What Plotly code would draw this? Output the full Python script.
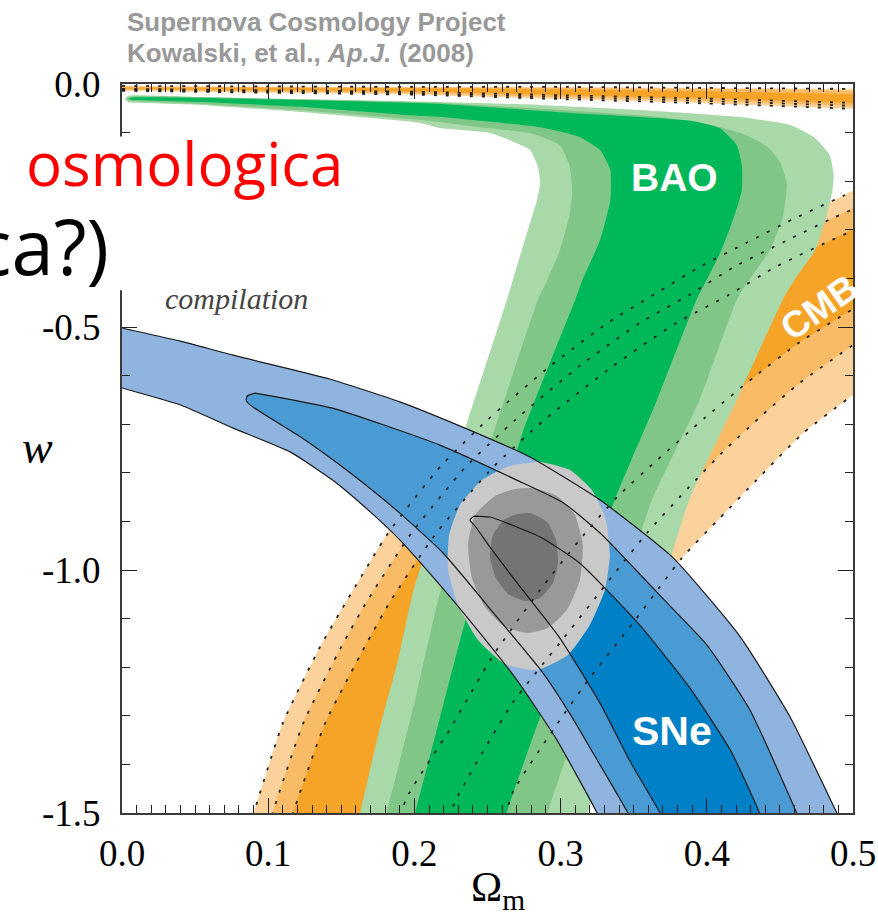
import plotly.graph_objects as go

# ---------------- values: (Omega_m, w) ----------------
X_TICKS = [0.0, 0.1, 0.2, 0.3, 0.4, 0.5]
X_TICK_TEXT = ["0.0", "0.1", "0.2", "0.3", "0.4", "0.5"]
Y_TICKS = [0.0, -0.5, -1.0, -1.5]
Y_TICK_TEXT = ["0.0", "-0.5", "-1.0", "-1.5"]

# BAO contours (outer edge from tip to bottom, inner edge from bottom back to tip)
BAO_3S_OUTER = [(0.0016, -0.031), (0.0043, -0.024), (0.0535, -0.027), (0.122, -0.031), (0.2175, -0.037),
                (0.286, -0.043), (0.354, -0.0535), (0.4226, -0.068), (0.4567, -0.084), (0.474, -0.111),
                (0.484, -0.146), (0.4868, -0.187), (0.486, -0.218), (0.482, -0.270), (0.474, -0.342),
                (0.460, -0.403), (0.452, -0.444), (0.4205, -0.650), (0.388, -0.856), (0.3686, -1.041),
                (0.344, -1.268), (0.3187, -1.5), (0.3146, -1.556)]
BAO_3S_INNER = [(0.1595, -1.556), (0.163, -1.5), (0.1765, -1.323), (0.1888, -1.185), (0.199, -1.047),
                (0.2175, -0.866), (0.2367, -0.691), (0.2633, -0.444), (0.270, -0.3765), (0.277, -0.307),
                (0.2838, -0.239), (0.286, -0.204), (0.2845, -0.171), (0.279, -0.136), (0.2517, -0.101),
                (0.2175, -0.0905), (0.204, -0.080), (0.122, -0.0576), (0.0535, -0.043), (0.0043, -0.038)]
BAO_2S_OUTER = [(0.003, -0.031), (0.006, -0.026), (0.122, -0.032), (0.2175, -0.039), (0.2995, -0.0535),
                (0.368, -0.068), (0.402, -0.084), (0.425, -0.103), (0.441, -0.128), (0.450, -0.160),
                (0.4547, -0.206), (0.452, -0.274), (0.443, -0.342), (0.429, -0.403), (0.4205, -0.444),
                (0.395, -0.650), (0.3625, -0.856), (0.342, -1.041), (0.317, -1.268), (0.291, -1.5),
                (0.286, -1.556)]
BAO_2S_INNER = [(0.177, -1.556), (0.181, -1.5), (0.2005, -1.268), (0.2175, -1.047), (0.236, -0.877),
                (0.254, -0.718), (0.2845, -0.444), (0.291, -0.403), (0.2995, -0.342), (0.306, -0.270),
                (0.308, -0.218), (0.306, -0.167), (0.2995, -0.126), (0.279, -0.101), (0.245, -0.089),
                (0.2175, -0.078), (0.204, -0.074), (0.122, -0.054), (0.0535, -0.041), (0.006, -0.035)]
BAO_1S_OUTER = [(0.004, -0.031), (0.007, -0.028), (0.122, -0.033), (0.2175, -0.041), (0.2995, -0.058),
                (0.390, -0.076), (0.409, -0.091), (0.4205, -0.126), (0.424, -0.167), (0.424, -0.218),
                (0.419, -0.270), (0.410, -0.342), (0.400, -0.403), (0.393, -0.444), (0.366, -0.650),
                (0.337, -0.856), (0.316, -1.041), (0.290, -1.268), (0.263, -1.5), (0.2585, -1.556)]
BAO_1S_INNER = [(0.196, -1.556), (0.2005, -1.5), (0.217, -1.309), (0.235, -1.103), (0.274, -0.718),
                (0.310, -0.444), (0.315, -0.403), (0.327, -0.321), (0.334, -0.239), (0.334, -0.177),
                (0.327, -0.136), (0.313, -0.109), (0.286, -0.089), (0.2175, -0.068), (0.204, -0.066),
                (0.122, -0.047), (0.0535, -0.037), (0.008, -0.033)]

# CMB contour boundaries (bottom -> top right)
CMB_L3 = [(0.081, -1.576), (0.090, -1.5), (0.110, -1.315), (0.1355, -1.158), (0.154, -1.062), (0.182, -0.924),
          (0.2175, -0.788), (0.250, -0.691), (0.293, -0.580), (0.332, -0.492), (0.3645, -0.432),
          (0.395, -0.3765), (0.427, -0.327), (0.459, -0.278), (0.493, -0.2305), (0.518, -0.1975)]
CMB_L2 = [(0.096, -1.576), (0.103, -1.5), (0.124, -1.315), (0.150, -1.158), (0.168, -1.062), (0.198, -0.924),
          (0.235, -0.788), (0.269, -0.691), (0.313, -0.580), (0.354, -0.492), (0.388, -0.434),
          (0.4185, -0.3765), (0.454, -0.323), (0.4875, -0.274), (0.518, -0.235)]
CMB_L1 = [(0.110, -1.576), (0.117, -1.5), (0.139, -1.315), (0.166, -1.158), (0.184, -1.062), (0.215, -0.924),
          (0.254, -0.788), (0.289, -0.691), (0.336, -0.580), (0.379, -0.492), (0.415, -0.434),
          (0.447, -0.3765), (0.484, -0.323), (0.518, -0.278)]
CMB_R1 = [(0.188, -1.556), (0.194, -1.473), (0.224, -1.329), (0.254, -1.175), (0.286, -1.041), (0.313, -0.938),
          (0.3385, -0.850), (0.366, -0.774), (0.3986, -0.687), (0.4315, -0.605), (0.4636, -0.531),
          (0.500, -0.463), (0.518, -0.428)]
CMB_R2 = [(0.2175, -1.556), (0.229, -1.469), (0.267, -1.274), (0.2995, -1.150), (0.327, -1.045),
          (0.359, -0.924), (0.388, -0.829), (0.411, -0.757), (0.438, -0.681), (0.4636, -0.615),
          (0.500, -0.537), (0.518, -0.500)]
CMB_R3 = [(0.2585, -1.556), (0.267, -1.459), (0.2995, -1.309), (0.320, -1.222), (0.351, -1.103),
          (0.383, -0.975), (0.409, -0.893), (0.434, -0.815), (0.466, -0.718), (0.500, -0.640),
          (0.518, -0.603)]
# thin CMB strip along w ~ 0
CMB_TOP_OM = [0.0, 0.1, 0.2, 0.3, 0.4, 0.5, 0.52]
CMB_TOP_3S_HI = [-0.004, -0.005, -0.006, -0.006, -0.008, -0.010, -0.010]
CMB_TOP_3S_LO = [-0.014, -0.018, -0.022, -0.031, -0.040, -0.051, -0.053]
CMB_TOP_2S_HI = [-0.005, -0.006, -0.007, -0.008, -0.010, -0.014, -0.014]
CMB_TOP_2S_LO = [-0.012, -0.016, -0.019, -0.027, -0.035, -0.045, -0.047]
CMB_TOP_1S_HI = [-0.007, -0.008, -0.009, -0.011, -0.015, -0.021, -0.022]
CMB_TOP_1S_LO = [-0.010, -0.013, -0.016, -0.023, -0.030, -0.039, -0.041]

# SNe contours (upper edge left -> bottom, lower edge left -> bottom)
SNE_3S_UPPER = [(-0.015, -0.490), (0.0, -0.502), (0.040, -0.529), (0.076, -0.558), (0.142, -0.607),
                (0.190, -0.654), (0.233, -0.706), (0.279, -0.7675), (0.327, -0.856), (0.377, -0.975),
                (0.423, -1.138), (0.457, -1.3025), (0.489, -1.5), (0.498, -1.556)]
SNE_3S_LOWER = [(-0.015, -0.611), (0.0, -0.6255), (0.040, -0.6605), (0.076, -0.708), (0.115, -0.757),
                (0.144, -0.815), (0.170, -0.881), (0.190, -0.938), (0.2175, -1.031), (0.233, -1.086),
                (0.270, -1.226), (0.2975, -1.350), (0.325, -1.5), (0.334, -1.556)]
SNE_2S_UPPER = [(0.091, -0.636), (0.099, -0.640), (0.144, -0.667), (0.2175, -0.743), (0.270, -0.815),
                (0.302, -0.862), (0.327, -0.924), (0.343, -0.973), (0.371, -1.062), (0.400, -1.154),
                (0.4295, -1.288), (0.4615, -1.5), (0.469, -1.556)]
SNE_2S_LOWER = [(0.091, -0.636), (0.0856, -0.642), (0.085, -0.652), (0.0897, -0.665), (0.122, -0.726),
                (0.156, -0.800), (0.190, -0.883), (0.2196, -0.965), (0.2565, -1.097), (0.288, -1.212),
                (0.306, -1.294), (0.325, -1.391), (0.346, -1.5), (0.354, -1.556)]
SNE_1S_UPPER = [(0.2409, -0.889), (0.2517, -0.891), (0.286, -0.932), (0.313, -0.9856), (0.354, -1.113),
                (0.388, -1.241), (0.416, -1.370), (0.436, -1.5), (0.442, -1.556)]
SNE_1S_LOWER = [(0.2409, -0.889), (0.238, -0.897), (0.242, -0.9115), (0.2517, -0.953), (0.274, -1.041),
                (0.2995, -1.140), (0.327, -1.274), (0.347, -1.391), (0.368, -1.5), (0.376, -1.556)]

# combined contours (closed loops)
ALL_3S = [(0.2859, -0.7778), (0.3064, -0.7942), (0.3214, -0.8354), (0.3310, -0.8971), (0.3337, -0.9691),
          (0.3303, -1.0412), (0.3200, -1.1132), (0.3050, -1.1749), (0.2838, -1.2058), (0.2619, -1.1934),
          (0.2435, -1.1440), (0.2298, -1.0720), (0.2230, -1.0), (0.2237, -0.9280), (0.2312, -0.8663),
          (0.2462, -0.8148), (0.2653, -0.7860)]
ALL_2S = [(0.2804, -0.8313), (0.2975, -0.8477), (0.3098, -0.8868), (0.3152, -0.9486), (0.3132, -1.0206),
          (0.3043, -1.0823), (0.2913, -1.1193), (0.2777, -1.1296), (0.2619, -1.1173), (0.2483, -1.0761),
          (0.2394, -1.0165), (0.2367, -0.9486), (0.2415, -0.8868), (0.2551, -0.8477), (0.2688, -0.8333)]
ALL_1S = [(0.2790, -0.8827), (0.2907, -0.9012), (0.2969, -0.9383), (0.2982, -0.9835), (0.2948, -1.0267),
          (0.2859, -1.0576), (0.2756, -1.0638), (0.2640, -1.0494), (0.2558, -1.0165), (0.2517, -0.9733),
          (0.2537, -0.9280), (0.2619, -0.8951), (0.2708, -0.8848)]

# ---------------- styles ----------------
CMB_COLORS = ["#fcd29c", "#f9bb66", "#f6a427"]
BAO_COLORS = ["#a9d9a9", "#80c787", "#00b85a"]
SNE_COLORS = ["#8fb4e0", "#4a9bd3", "#0081c7"]
ALL_COLORS = ["#c9c9c9", "#999999", "#747474"]
SERIF = "Liberation Serif"
SANS = "Liberation Sans"
SMOOTH = 0.5

fig = go.Figure()


def xy(points):
    return [p[0] for p in points], [p[1] for p in points]


def filled(points, color, wrap=False):
    pts = list(points)
    if wrap:  # smooth closed loop: run through the start again
        pts = pts + pts[:3]
    x, y = xy(pts)
    fig.add_trace(go.Scatter(x=x, y=y, mode="lines", fill="toself", fillcolor=color,
                             line=dict(width=0, color=color, shape="spline", smoothing=SMOOTH),
                             hoverinfo="skip"))


def outline(points, color, width, dash="solid", closed=False):
    x, y = xy(points)
    if closed:
        x.append(x[0]); y.append(y[0])
    fig.add_trace(go.Scatter(x=x, y=y, mode="lines",
                             line=dict(width=width, color=color, dash=dash, shape="spline",
                                       smoothing=SMOOTH),
                             hoverinfo="skip"))


# CMB strip at top
for hi, lo, col in [(CMB_TOP_3S_HI, CMB_TOP_3S_LO, CMB_COLORS[0]),
                    (CMB_TOP_2S_HI, CMB_TOP_2S_LO, CMB_COLORS[1]),
                    (CMB_TOP_1S_HI, CMB_TOP_1S_LO, CMB_COLORS[2])]:
    filled(list(zip(CMB_TOP_OM, hi)) + list(zip(CMB_TOP_OM, lo))[::-1], col)

# CMB band
for left, right, col in [(CMB_L3, CMB_R3, CMB_COLORS[0]), (CMB_L2, CMB_R2, CMB_COLORS[1]),
                         (CMB_L1, CMB_R1, CMB_COLORS[2])]:
    filled(left + right[::-1], col)

# BAO
for outer, inner, col in [(BAO_3S_OUTER, BAO_3S_INNER, BAO_COLORS[0]),
                          (BAO_2S_OUTER, BAO_2S_INNER, BAO_COLORS[1]),
                          (BAO_1S_OUTER, BAO_1S_INNER, BAO_COLORS[2])]:
    filled(outer + inner, col)

# SNe
SNE_SHAPES = [SNE_3S_UPPER + SNE_3S_LOWER[::-1],
              SNE_2S_UPPER + SNE_2S_LOWER[::-1],
              SNE_1S_UPPER + SNE_1S_LOWER[::-1]]
for pts, col in zip(SNE_SHAPES, SNE_COLORS):
    filled(pts, col)

# combined
for pts, col in zip([ALL_3S, ALL_2S, ALL_1S], ALL_COLORS):
    filled(pts, col, wrap=True)

# SNe outlines
for pts in SNE_SHAPES:
    outline(pts, "#1a1a1a", 1.2, closed=True)

# CMB dotted boundaries
DOT = "3px,9px"
for curve in [CMB_L3, CMB_L2, CMB_L1, CMB_R1, CMB_R2, CMB_R3]:
    outline(curve, "#222222", 1.8, dash=DOT)
for edge in [CMB_TOP_3S_HI, CMB_TOP_3S_LO, CMB_TOP_2S_LO, CMB_TOP_1S_LO]:
    outline(list(zip(CMB_TOP_OM, edge)), "#222222", 1.8, dash=DOT)

axis_font = dict(family=SERIF, size=37, color="black")
fig.update_xaxes(range=[0, 0.5], tickvals=X_TICKS, ticktext=X_TICK_TEXT, tickfont=axis_font,
                 showgrid=False, zeroline=False, showline=True, linecolor="#3a3a3a", linewidth=2,
                 mirror="ticks", ticks="inside", ticklen=15, tickwidth=1.3, tickcolor="#222",
                 minor=dict(dtick=0.01, ticks="inside", ticklen=8, tickwidth=1.2, tickcolor="#222"),
                 ticklabelstandoff=7)
fig.update_yaxes(range=[-1.5, 0], tickvals=Y_TICKS, ticktext=Y_TICK_TEXT, tickfont=axis_font,
                 showgrid=False, zeroline=False, showline=True, linecolor="#3a3a3a", linewidth=2,
                 mirror="ticks", ticks="inside", ticklen=15, tickwidth=1.3, tickcolor="#222",
                 minor=dict(dtick=0.1, ticks="inside", ticklen=8, tickwidth=1.2, tickcolor="#222"),
                 ticklabelstandoff=12)

annotations = [
    dict(text="<b>Supernova Cosmology Project</b>", x=0.004, y=1.085, xanchor="left", yanchor="middle",
         font=dict(family=SANS, size=26, color="#999999")),
    dict(text="<b>Kowalski, et al., <i>Ap.J.</i> (2008)</b>", x=0.004, y=1.0425, xanchor="left",
         yanchor="middle", font=dict(family=SANS, size=26, color="#999999")),
    dict(text="osmologica", x=0.305, y=0.892, xanchor="right", yanchor="middle",
         font=dict(family="Open Sans", size=60, color="#ff0000")),
    dict(text="ca?)", x=-0.015, y=0.779, xanchor="right", yanchor="middle",
         font=dict(family="Open Sans", size=76, color="black")),
    dict(text="<i>compilation</i>", x=0.156, y=0.7064, xanchor="center", yanchor="middle",
         font=dict(family=SERIF, size=30, color="#444444")),
    dict(text="<i>w</i>", x=-0.115, y=0.502, xanchor="center", yanchor="middle",
         font=dict(family=SERIF, size=46, color="black")),
    dict(text="Ω<sub>m</sub>", x=0.514, y=-0.106, xanchor="center", yanchor="middle",
         font=dict(family=SERIF, size=42, color="black")),
]
for a in annotations:
    a.update(xref="paper", yref="paper", showarrow=False)

annotations += [
    dict(text="<b>BAO</b>", x=0.378, y=-0.193, xref="x", yref="y", showarrow=False,
         font=dict(family=SANS, size=39, color="white")),
    dict(text="<b>SNe</b>", x=0.376, y=-1.331, xref="x", yref="y", showarrow=False,
         font=dict(family=SANS, size=41, color="white")),
    dict(text="<b>CMB</b>", x=0.477, y=-0.459, xref="x", yref="y", showarrow=False, textangle=-35,
         font=dict(family=SANS, size=37, color="white")),
]

fig.update_layout(
    width=878, height=924, margin=dict(l=122, r=25, t=84, b=111, autoexpand=False),
    plot_bgcolor="white", paper_bgcolor="white", showlegend=False,
    annotations=annotations,
    shapes=[dict(type="rect", xref="paper", yref="paper", x0=-0.17, x1=0.025, y0=0.717, y1=0.928,
                 fillcolor="white", line=dict(width=0), layer="above")],
)

fig.write_html("out.html")
